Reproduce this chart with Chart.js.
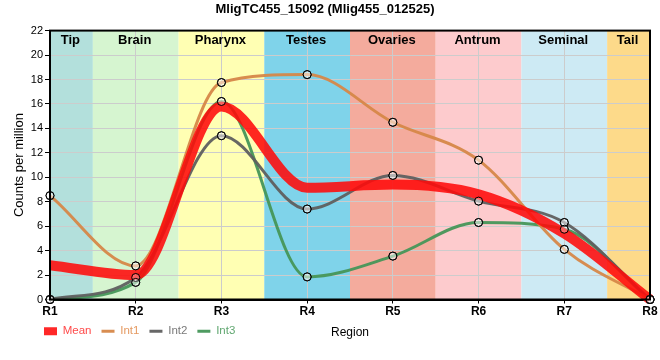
<!DOCTYPE html>
<html>
<head>
<meta charset="utf-8">
<script src="https://cdn.jsdelivr.net/npm/chart.js@4"></script>
<style>
  html, body { margin: 0; padding: 0; background: #fff; }
</style>
</head>
<body>
<canvas id="myChart" width="660" height="360"></canvas>
<script>
const etiquetas = ["R1", "R2", "R3", "R4", "R5", "R6", "R7", "R8"];

// valores (counts per million)
const media = [2.8, 2.0, 15.8, 9.15, 9.4, 8.6, 5.4, 0];
const int1 = [8.5, 2.75, 17.75, 18.4, 14.5, 11.4, 4.1, 0];
const int2 = [0, 1.8, 13.4, 7.4, 10.15, 8.05, 6.3, 0];
const int3 = [0, 1.4, 16.2, 1.85, 3.55, 6.3, 5.75, 0];

// zonas del animal, cada una va de medio tick a medio tick
const regiones = ["Tip", "Brain", "Pharynx", "Testes", "Ovaries", "Antrum", "Seminal", "Tail"];
const regionDesde = [0, 0.5, 1.5, 2.5, 3.5, 4.5, 5.5, 6.5];
const regionHasta = [0.5, 1.5, 2.5, 3.5, 4.5, 5.5, 6.5, 7];
const regionColores = ["#b3e0dc", "#d6f5d0", "#ffffb3", "#7fd3ea", "#f4ab9d", "#fdcbcd", "#cdeaf4", "#fdda8a"];

const fuente = "'Liberation Sans', Arial, sans-serif";

const pluginRegiones = {
  id: "regiones",
  beforeDraw(chart) {
    const { ctx, chartArea } = chart;
    const x = chart.scales.x;
    ctx.save();
    regiones.forEach((r, i) => {
      const x0 = x.getPixelForValue(regionDesde[i]);
      const x1 = x.getPixelForValue(regionHasta[i]);
      ctx.fillStyle = regionColores[i];
      ctx.fillRect(x0, chartArea.top, x1 - x0, chartArea.bottom - chartArea.top);
    });
    ctx.restore();
  },
  afterDatasetsDraw(chart) {
    // los circulos van encima de la linea gruesa de la media
    chart.data.datasets.forEach((ds, i) => {
      if (!ds.pointRadius) return;
      const meta = chart.getDatasetMeta(i);
      meta.data.forEach((p) => p.draw(chart.ctx));
    });
  },
  afterDraw(chart) {
    const { ctx, chartArea } = chart;
    const x = chart.scales.x;
    ctx.save();
    ctx.strokeStyle = "#000";
    ctx.lineWidth = 2;
    ctx.strokeRect(chartArea.left, chartArea.top, chartArea.right - chartArea.left, chartArea.bottom - chartArea.top);

    ctx.fillStyle = "#000";
    ctx.font = "bold 13px " + fuente;
    ctx.textAlign = "center";
    ctx.textBaseline = "middle";
    regiones.forEach((r, i) => {
      const x0 = x.getPixelForValue(regionDesde[i]);
      const x1 = x.getPixelForValue(regionHasta[i]);
      ctx.fillText(r, (x0 + x1) / 2 - 1, chartArea.top + 10);
    });

    // titulo del eje x, en la misma fila que la leyenda
    const caja = chart.legend.legendHitBoxes[0];
    ctx.font = "12px " + fuente;
    ctx.fillText("Region", (chartArea.left + chartArea.right) / 2, caja.top + caja.height / 2 + 1);
    ctx.restore();
  },
  afterLayout(chart) {
    chart.legend.left += 34;
  },
};

const coloresTexto = ["#ff4a4a", "#e59a62", "#7a7a7a", "#62a872"];

const datasets = [
  {
    label: "Mean",
    data: media,
    borderColor: "rgba(255, 10, 10, 0.88)",
    backgroundColor: "rgba(255, 10, 10, 0.88)",
    borderWidth: 10,
    pointRadius: 0,
    cubicInterpolationMode: "monotone",
    clip: false,
  },
  {
    label: "Int1",
    data: int1,
    borderColor: "rgba(214, 135, 72, 0.95)",
    borderWidth: 3,
    pointRadius: 4,
    pointBorderColor: "#000",
    pointBorderWidth: 1,
    pointBackgroundColor: "rgba(255,255,255,0.3)",
    cubicInterpolationMode: "monotone",
    clip: false,
  },
  {
    label: "Int2",
    data: int2,
    borderColor: "rgba(95, 95, 95, 0.95)",
    borderWidth: 3,
    pointRadius: 4,
    pointBorderColor: "#000",
    pointBorderWidth: 1,
    pointBackgroundColor: "rgba(255,255,255,0.3)",
    cubicInterpolationMode: "monotone",
    clip: false,
  },
  {
    label: "Int3",
    data: int3,
    borderColor: "rgba(70, 150, 88, 0.95)",
    borderWidth: 3,
    pointRadius: 4,
    pointBorderColor: "#000",
    pointBorderWidth: 1,
    pointBackgroundColor: "rgba(255,255,255,0.3)",
    cubicInterpolationMode: "monotone",
    clip: false,
  },
];

const config = {
  type: "line",
  data: { labels: etiquetas, datasets },
  options: {
    responsive: false,
    animation: false,
    layout: { padding: { left: 0, right: 10, top: 0, bottom: 13 } },
    plugins: {
      tooltip: { enabled: false },
      title: {
        display: true,
        text: "MligTC455_15092 (Mlig455_012525)",
        color: "#000",
        font: { family: fuente, size: 13, weight: "bold" },
        padding: { top: 2, bottom: 13 },
      },
      legend: {
        position: "bottom",
        align: "start",
        labels: {
          usePointStyle: true,
          pointStyleWidth: 13,
          boxHeight: 8,
          padding: 10,
          font: { family: fuente, size: 11.5 },
          generateLabels: (chart) =>
            chart.data.datasets.map((ds, i) => ({
              text: ds.label,
              datasetIndex: i,
              fillStyle: ds.borderColor,
              strokeStyle: ds.borderColor,
              lineWidth: i === 0 ? 0 : 3,
              pointStyle: i === 0 ? "rect" : "line",
              fontColor: coloresTexto[i],
            })),
        },
      },
    },
    scales: {
      x: {
        offset: false,
        grid: { color: "#cccccc", tickLength: 4, tickColor: "#000" },
        border: { color: "#000", width: 2 },
        ticks: { color: "#000", padding: 1, autoSkip: false, maxRotation: 0, font: { family: fuente, size: 12, weight: "bold" } },
        afterFit: (escala) => {
          escala.height = 16;
        },
      },
      y: {
        min: 0,
        max: 22,
        grid: { color: "#cccccc", tickLength: 5, tickColor: "#000" },
        border: { color: "#000", width: 2 },
        ticks: { stepSize: 2, color: "#000", padding: 2, font: { family: fuente, size: 11 } },
        title: {
          display: true,
          text: "Counts per million",
          color: "#000",
          font: { family: fuente, size: 13 },
          padding: { top: 12, bottom: 0 },
        },
        afterFit: (escala) => {
          escala.width = 50;
        },
      },
    },
  },
  plugins: [pluginRegiones],
};

new Chart(document.getElementById("myChart"), config);
</script>
</body>
</html>
